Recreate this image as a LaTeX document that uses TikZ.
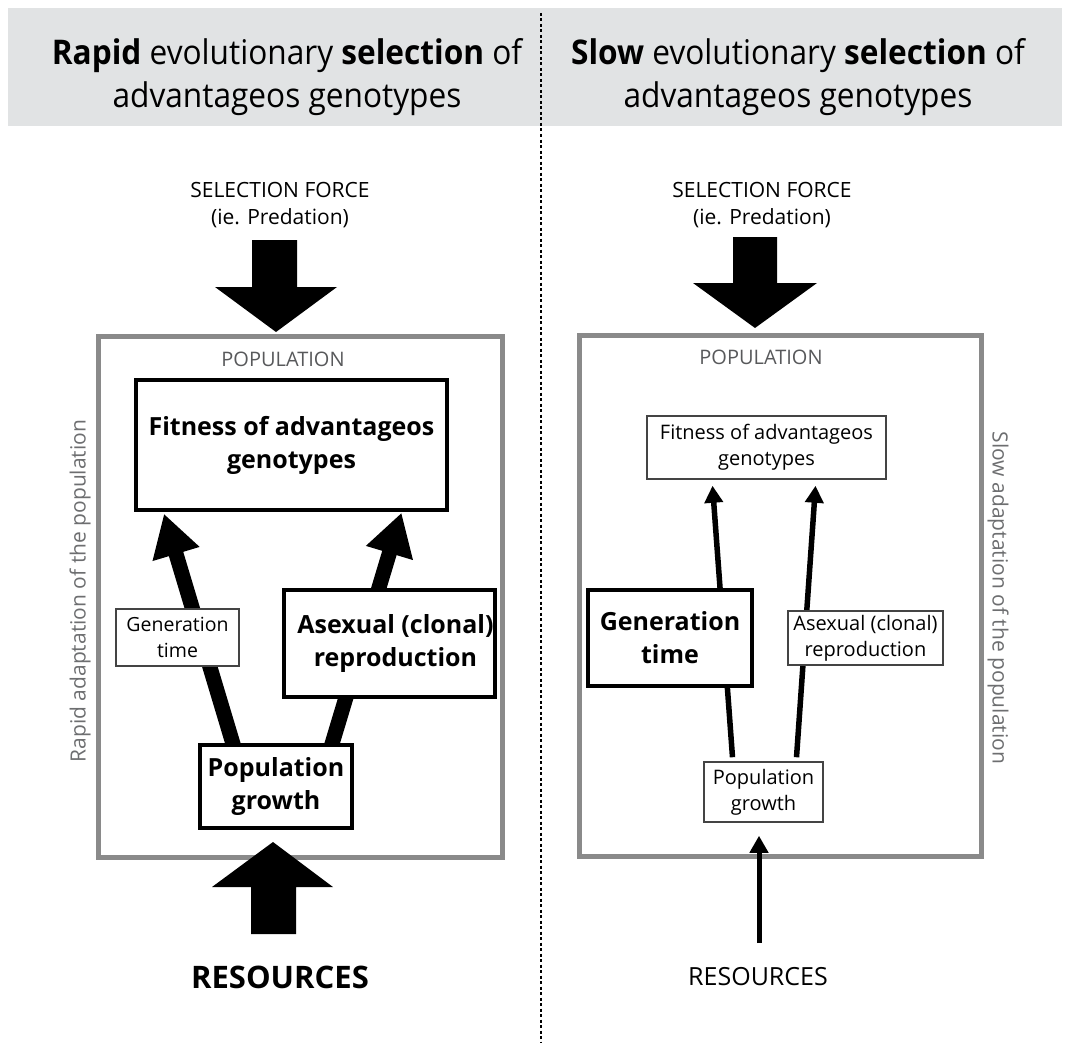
\documentclass[tikz,border=0pt]{standalone}
\usepackage{fontspec}
\setmainfont{Open Sans}
\newfontfamily\titlefam{Open Sans}[FakeStretch=0.93]
\usetikzlibrary{arrows.meta}

\definecolor{hdrgray}{HTML}{E1E3E4}
\definecolor{popgray}{HTML}{8A8A8A}
\definecolor{txtgray}{HTML}{6D6E70}
\definecolor{namegray}{HTML}{58595B}
\definecolor{boxgray}{HTML}{444444}

\newcommand{\titletxt}{\titlefam\fontsize{34}{43}\selectfont}
\newcommand{\boxbold}{\bfseries\fontsize{25}{33}\selectfont}
\newcommand{\boxplain}{\fontsize{20}{26}\selectfont}
\newcommand{\labeltxt}{\fontsize{21}{27}\selectfont}

\begin{document}
\begin{tikzpicture}[x=1pt,y=-1pt,
    popframe/.style={draw=popgray,line width=5pt},
    boldbox/.style={draw,line width=3.5pt,fill=white,align=center,font=\boxbold,inner sep=0pt},
    thinbox/.style={draw=boxgray,line width=1.5pt,fill=white,align=center,font=\boxplain,inner sep=0pt},
    fatarrow/.style={line width=15pt,-{Triangle[width=46pt,length=42pt]}},
    slimarrow/.style={line width=5.5pt,-{Triangle[width=18pt,length=17pt]}},
    sidetxt/.style={text=txtgray,font=\labeltxt,inner sep=0pt}]
    \useasboundingbox (0,0) rectangle (1070,1046);
    % header band
    \fill[hdrgray] (8,8) rectangle (1062,126);
    \draw[line width=1.3pt,dash pattern=on 3pt off 2.5pt] (541,13) -- (541,1042);
    \node[font=\titletxt,align=center,inner sep=0pt] (titleL) at (287,77)
        {\textbf{Rapid} evolutionary \textbf{selection} of\\advantageos genotypes};
    \node[font=\titletxt,align=center,inner sep=0pt] (titleR) at (798,77)
        {\textbf{Slow} evolutionary \textbf{selection} of\\advantageos genotypes};

    % ---- left: rapid ----
    \node[font=\labeltxt,align=center,inner sep=0pt] (selL) at (280,205) {SELECTION FORCE\\(ie. Predation)};
    \fill (252,240) -- (297,240) -- (297,287) -- (337,287) -- (276,332) -- (215,287) -- (252,287) -- cycle;
    \draw[popframe] (98,336) rectangle (502,857);
    \node[text=namegray,font=\fontsize{20}{24}\selectfont,inner sep=0pt] (popnameL) at (283,359) {POPULATION};
    \node[sidetxt,rotate=90] (adaptL) at (80,591) {Rapid adaptation of the population};
    % boxes are placed first, arrows drawn under them
    \node[boldbox,minimum width=311pt,minimum height=130pt] (fitL) at (291.5,445) {Fitness of advantageos\\genotypes};
    \node[boldbox,minimum width=152pt,minimum height=83pt,draw=none,fill=none] (popL) at (276,786.5) {};
    \draw[fatarrow] ([xshift=-42pt,yshift=-4pt]popL.north) -- ([xshift=-127.5pt,yshift=-2pt]fitL.south);
    \draw[fatarrow] ([xshift=55pt,yshift=-4pt]popL.north) -- ([xshift=110pt,yshift=-1pt]fitL.south);
    \node[thinbox,font=\fontsize{19.5}{26}\selectfont,minimum width=123pt,minimum height=57pt] (genL) at (177.5,637.5) {Generation\\time};
    \node[boldbox,minimum width=211pt,minimum height=107pt] (asxL) at (389.5,643.5)
        {\hspace*{12pt}Asexual (clonal)\\\hspace*{12pt}reproduction};
    \node[boldbox,minimum width=152pt,minimum height=83pt] at (popL) {Population\\growth};
    \fill (251,934) -- (296,934) -- (296,887) -- (333,887) -- (273,842) -- (212,887) -- (251,887) -- cycle;
    \node[font=\bfseries\fontsize{31}{36}\selectfont,inner sep=0pt] (resL) at (280,977) {RESOURCES};

    % ---- right: slow ----
    \node[font=\labeltxt,align=center,inner sep=0pt] (selR) at (762,205) {SELECTION FORCE\\(ie. Predation)};
    \fill (733,237) -- (777,237) -- (777,283) -- (817,283) -- (755,328) -- (693,283) -- (733,283) -- cycle;
    \draw[popframe] (579,335) rectangle (981,856);
    \node[text=namegray,font=\fontsize{20}{24}\selectfont,inner sep=0pt] (popnameR) at (761,357) {POPULATION};
    \node[sidetxt,rotate=-90] (adaptR) at (998,598) {Slow adaptation of the population};
    \node[thinbox,minimum width=239pt,minimum height=63pt] (fitR) at (766.5,447.5) {Fitness of advantageos\\genotypes};
    \node[thinbox,minimum width=119pt,minimum height=60pt,draw=none,fill=none] (popR) at (763.5,792) {};
    \draw[slimarrow] ([xshift=-31pt,yshift=4pt]popR.north) -- ([xshift=-54pt,yshift=-6pt]fitR.south);
    \draw[slimarrow] ([xshift=33pt,yshift=4pt]popR.north) -- ([xshift=49pt,yshift=-6pt]fitR.south);
    \node[boldbox,minimum width=164pt,minimum height=96pt] (genR) at (670,638) {Generation\\time};
    \node[thinbox,minimum width=155pt,minimum height=54pt] (asxR) at (865.5,638) {Asexual (clonal)\\reproduction};
    \node[thinbox,minimum width=119pt,minimum height=60pt] at (popR) {Population\\growth};
    \node[font=\fontsize{25}{30}\selectfont,inner sep=0pt] (resR) at (758,977) {RESOURCES};
    \draw[slimarrow,line width=5pt] ([xshift=1pt,yshift=34pt]resR.center) -- ([xshift=-4.5pt,yshift=-13pt]popR.south);
\end{tikzpicture}
\end{document}
